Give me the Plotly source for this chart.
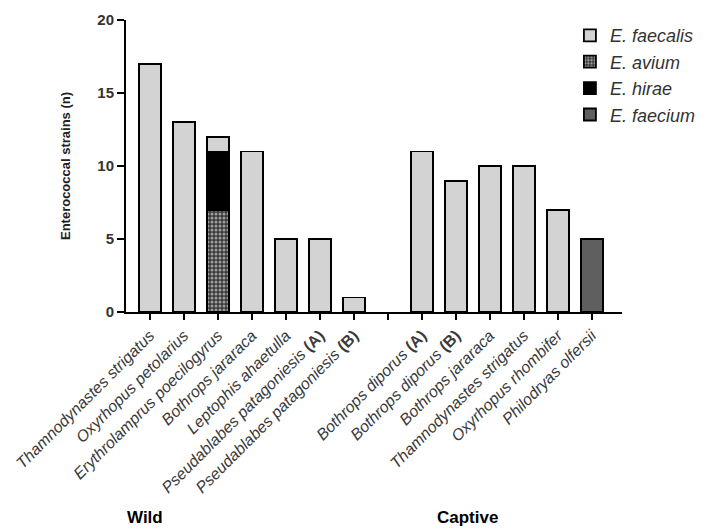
import plotly.graph_objects as go

# ---- data ----
categories = [
    "<i>Thamnodynastes strigatus</i>",
    "<i>Oxyrhopus petolarius</i>",
    "<i>Erythrolamprus poecilogyrus</i>",
    "<i>Bothrops jararaca</i>",
    "<i>Leptophis ahaetulla</i>",
    "<i>Pseudablabes patagoniesis</i> <b>(A)</b>",
    "<i>Pseudablabes patagoniesis</i> <b>(B)</b>",
    "",
    "<i>Bothrops diporus</i> <b>(A)</b>",
    "<i>Bothrops diporus</i> <b>(B)</b>",
    "<i>Bothrops jararaca</i>",
    "<i>Thamnodynastes strigatus</i>",
    "<i>Oxyrhopus rhombifer</i>",
    "<i>Philodryas olfersii</i>",
]
faecalis = [17, 13, 1, 11, 5, 5, 1, None, 11, 9, 10, 10, 7, None]
avium    = [None, None, 7, None, None, None, None, None, None, None, None, None, None, None]
hirae    = [None, None, 4, None, None, None, None, None, None, None, None, None, None, None]
faecium  = [None, None, None, None, None, None, None, None, None, None, None, None, None, 5]
groups = ["Wild", "Captive"]
group_pos = [-0.15, 9.35]
y_ticks = [0, 5, 10, 15, 20]

x = list(range(len(categories)))
line = dict(color="black", width=1.8)

fig = go.Figure()
fig.add_trace(go.Bar(
    x=x, y=avium, name="<i>E. avium</i>", legendrank=2,
    marker=dict(color="#3a3a3a", line=line,
                pattern=dict(shape=".", fgcolor="white", bgcolor="#3a3a3a",
                             size=4, solidity=0.45, fillmode="overlay")),
))
fig.add_trace(go.Bar(
    x=x, y=hirae, name="<i>E. hirae</i>", legendrank=3,
    marker=dict(color="black", line=line),
))
fig.add_trace(go.Bar(
    x=x, y=faecalis, name="<i>E. faecalis</i>", legendrank=1,
    marker=dict(color="#d3d3d3", line=line),
))
fig.add_trace(go.Bar(
    x=x, y=faecium, name="<i>E. faecium</i>", legendrank=4,
    marker=dict(color="#5f5f5f", line=line),
))

for g, p in zip(groups, group_pos):
    fig.add_annotation(x=p, y=-0.705, xref="x", yref="paper", text="<b>%s</b>" % g,
                       showarrow=False, font=dict(size=17, color="black"),
                       xanchor="center", yanchor="middle")

fig.update_layout(
    width=714, height=524,
    margin=dict(l=118, r=100, t=12, b=220, autoexpand=False),
    paper_bgcolor="white", plot_bgcolor="white",
    barmode="stack", bargap=0.35,
    font=dict(family="Liberation Sans, Arial, sans-serif", color="#222"),
    showlegend=True,
    legend=dict(x=0.895, xanchor="left", y=1.01, yanchor="top",
                traceorder="normal",
                font=dict(size=18, color="#333"), tracegroupgap=0,
                bgcolor="rgba(0,0,0,0)"),
    xaxis=dict(
        range=[-0.7, 13.89], tickmode="array", tickvals=x, ticktext=categories,
        tickangle=-45, tickfont=dict(size=16, color="#3a3a3a"),
        showline=True, linecolor="black", linewidth=2,
        ticks="outside", ticklen=6, tickwidth=2, tickcolor="black",
        showgrid=False, zeroline=False,
    ),
    yaxis=dict(
        range=[0, 20], tickvals=y_ticks,
        ticktext=["<b>%d</b>" % v for v in y_ticks],
        tickfont=dict(size=15, color="#333"),
        showline=True, linecolor="black", linewidth=2,
        ticks="outside", ticklen=7, tickwidth=2, tickcolor="black",
        showgrid=False, zeroline=False,
        title=dict(text="<b>Enterococcal strains (n)</b>", font=dict(size=13, color="#222"),
                   standoff=24),
    ),
)

fig.write_html("out.html")
